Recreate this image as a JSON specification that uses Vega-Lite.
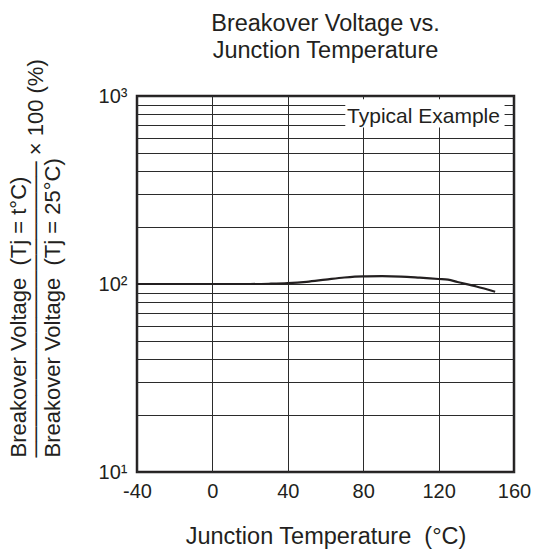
{
  "$schema": "https://vega.github.io/schema/vega-lite/v6.json",
  "autosize": {"type": "none"},
  "width": 377,
  "height": 376,
  "padding": {"left": 137, "top": 96, "right": 20, "bottom": 82},
  "background": "white",
  "title": {
    "text": ["Breakover Voltage vs.", "Junction Temperature"],
    "frame": "group",
    "font": "Liberation Sans",
    "fontSize": 23.5,
    "fontWeight": "normal",
    "color": "#231f20",
    "lineHeight": 27,
    "anchor": "middle",
    "offset": 13,
    "dy": 17
  },
  "config": {
    "view": {"stroke": "#231f20", "strokeWidth": 2.5},
    "axis": {
      "labelFont": "Liberation Sans",
      "titleFont": "Liberation Sans, DejaVu Sans",
      "labelColor": "#231f20",
      "titleColor": "#231f20",
      "titleFontWeight": "normal",
      "domain": false,
      "ticks": false,
      "gridColor": "#2b2b2b",
      "gridOpacity": 1,
      "gridWidth": 1
    }
  },
  "datasets": {
    "curve": [
      {"temp": -40, "ratio": 100},
      {"temp": 0, "ratio": 100},
      {"temp": 20, "ratio": 100},
      {"temp": 30, "ratio": 100.3},
      {"temp": 40, "ratio": 101},
      {"temp": 50, "ratio": 102.7},
      {"temp": 60, "ratio": 105.5},
      {"temp": 70, "ratio": 108.3},
      {"temp": 80, "ratio": 109.8},
      {"temp": 90, "ratio": 110},
      {"temp": 100, "ratio": 109.5},
      {"temp": 110, "ratio": 108},
      {"temp": 120, "ratio": 106.3},
      {"temp": 125, "ratio": 105.5},
      {"temp": 130, "ratio": 102.5},
      {"temp": 140, "ratio": 97},
      {"temp": 150, "ratio": 91}
    ],
    "note": [
      {"x": 70.5, "x2": 155, "y": 680, "y2": 960, "tx": 112, "ty": 775, "label": "Typical Example"}
    ]
  },
  "layer": [
    {
      "data": {"name": "note"},
      "mark": {"type": "rect", "fill": "white", "stroke": null},
      "encoding": {
        "x": {
          "field": "x",
          "type": "quantitative",
          "scale": {"domain": [-40, 160], "nice": false, "zero": false},
          "axis": {
            "values": [-40, -20, 0, 20, 40, 60, 80, 100, 120, 140, 160],
            "labelExpr": "datum.value % 40 == 0 ? '' + datum.value : ''",
            "labelFontSize": 20,
            "labelPadding": 9,
            "labelFlush": false,
            "title": "Junction Temperature\u00a0\u00a0(°C)",
            "titleFontSize": 23.5,
            "titlePadding": 23
          }
        },
        "x2": {"field": "x2"},
        "y": {
          "field": "y",
          "type": "quantitative",
          "scale": {"type": "log", "domain": [10, 1000], "nice": false},
          "axis": {
            "values": [10, 20, 30, 40, 50, 60, 70, 80, 90, 100, 200, 300, 400, 500, 600, 700, 800, 900, 1000],
            "labelExpr": "datum.value == 10 ? '10¹' : datum.value == 100 ? '10²' : datum.value == 1000 ? '10³' : ''",
            "labelFontSize": 20,
            "labelPadding": 10,
            "labelFlush": false,
            "title": ["Breakover Voltage\u00a0\u00a0(Tj = t°C)", "───────────────────\u00a0× 100 (%)", "Breakover Voltage\u00a0\u00a0(Tj = 25°C)"],
            "titleFontSize": 22,
            "titleLineHeight": 17,
            "titleAngle": -90,
            "titleAlign": "left",
            "titleBaseline": "middle",
            "titleX": -119,
            "titleY": 361
          }
        },
        "y2": {"field": "y2"}
      }
    },
    {
      "data": {"name": "note"},
      "mark": {"type": "text", "font": "Liberation Sans", "fontSize": 21, "color": "#231f20", "baseline": "middle", "align": "center"},
      "encoding": {
        "x": {"field": "tx", "type": "quantitative"},
        "y": {"field": "ty", "type": "quantitative"},
        "text": {"field": "label"}
      }
    },
    {
      "data": {"name": "curve"},
      "mark": {"type": "line", "color": "#231f20", "strokeWidth": 2.2, "interpolate": "monotone"},
      "encoding": {
        "x": {"field": "temp", "type": "quantitative"},
        "y": {"field": "ratio", "type": "quantitative"}
      }
    }
  ]
}
